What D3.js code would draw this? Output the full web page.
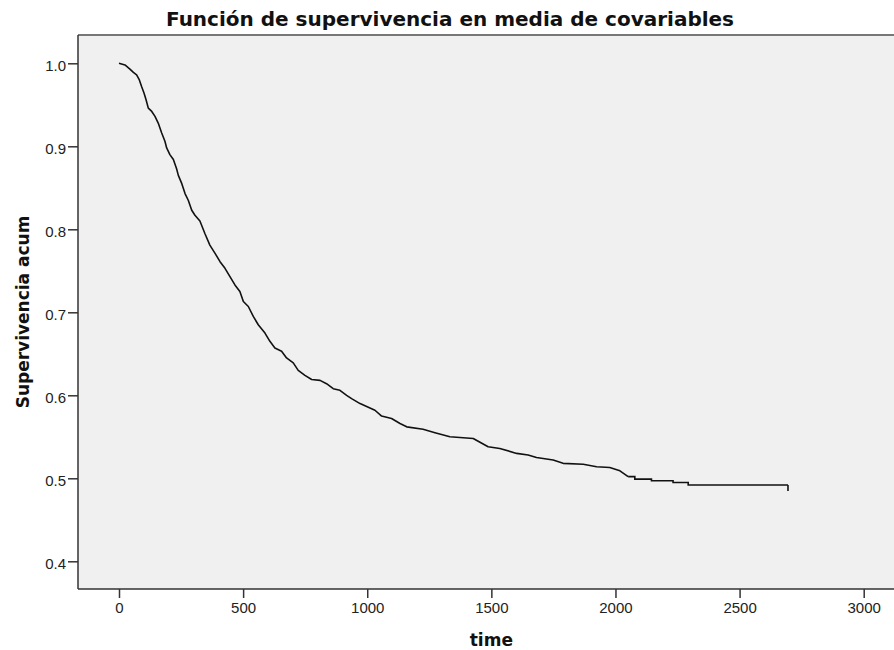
<!DOCTYPE html>
<html>
  <head>
    <title>Función de supervivencia</title>
    <script src="https://d3js.org/d3.v7.min.js"></script>
    <style>
      body { margin: 0; background: #fff; }
      .axis text { font-family: "Liberation Sans", Arial, sans-serif; font-size: 15px; fill: #222; }
      .axis line, .axis path { stroke: #333; stroke-width: 1.5px; }
      .ttl { font-family: "DejaVu Sans", sans-serif; font-weight: bold; fill: #111; }
    </style>
  </head>
  <body>
    <script>
      // Tiempos y supervivencia acumulada
      var times = [0, 24, 44, 58, 71, 82, 91, 101, 109, 118, 132, 145, 158, 172, 185, 192, 205, 219, 232, 239,
        253, 266, 279, 293, 306, 326, 346, 366, 387, 407, 427, 447, 467, 487, 501, 521, 541, 561, 588, 608,
        628, 655, 675, 702, 722, 749, 776, 810, 836, 863, 890, 917, 937, 971, 1031, 1058, 1098, 1132, 1159, 1225,
        1273, 1333, 1427, 1487, 1534, 1602, 1648, 1682, 1749, 1789, 1870, 1924, 1977, 2018, 2051, 2078, 2145, 2232, 2293, 2695];
      var survival = [1.000, 0.998, 0.993, 0.989, 0.986, 0.980, 0.972, 0.964, 0.956, 0.946, 0.942, 0.936, 0.928, 0.916, 0.906, 0.898, 0.890, 0.884, 0.873, 0.865,
        0.855, 0.843, 0.835, 0.823, 0.817, 0.810, 0.795, 0.781, 0.771, 0.761, 0.753, 0.743, 0.733, 0.725, 0.713, 0.707, 0.695, 0.685, 0.675, 0.665,
        0.657, 0.653, 0.645, 0.639, 0.630, 0.624, 0.619, 0.618, 0.614, 0.608, 0.606, 0.600, 0.596, 0.590, 0.582, 0.575, 0.572, 0.566, 0.562, 0.559,
        0.555, 0.550, 0.548, 0.538, 0.536, 0.530, 0.528, 0.525, 0.522, 0.518, 0.517, 0.514, 0.513, 0.509, 0.502, 0.499, 0.497, 0.495, 0.492, 0.492];
      // censura final
      var censorTime = 2695;
      var xTicks = [0, 500, 1000, 1500, 2000, 2500, 3000];
      var yTicks = [0.4, 0.5, 0.6, 0.7, 0.8, 0.9, 1.0];

      var width = 894, height = 650;
      var plot = {left: 78, top: 35, right: 894, bottom: 589};

      var x = d3.scaleLinear().domain([0, 3000]).range([119, 863.7]);
      var y = d3.scaleLinear().domain([0.4, 1.0]).range([561.3, 63.3]);

      var svg = d3.select("body").append("svg")
        .attr("width", width)
        .attr("height", height);

      // fondo del area de grafico
      svg.append("rect")
        .attr("x", plot.left).attr("y", plot.top)
        .attr("width", plot.right - plot.left)
        .attr("height", plot.bottom - plot.top)
        .attr("fill", "#f0f0f0");

      // borde superior
      svg.append("line")
        .attr("x1", plot.left).attr("x2", plot.right)
        .attr("y1", plot.top).attr("y2", plot.top)
        .attr("stroke", "#777").attr("stroke-width", 2);

      // titulo
      svg.append("text")
        .attr("class", "ttl")
        .attr("x", 450).attr("y", 26)
        .attr("text-anchor", "middle")
        .style("font-size", "20px")
        .text("Función de supervivencia en media de covariables");

      // eje x
      var gx = svg.append("g")
        .attr("class", "axis")
        .attr("transform", "translate(0," + plot.bottom + ")")
        .call(d3.axisBottom(x).tickValues(xTicks).tickFormat(d3.format("d")).tickSize(9).tickSizeOuter(0).tickPadding(4));
      gx.select(".domain").attr("d", "M" + plot.left + ",0H" + plot.right);

      // eje y
      var gy = svg.append("g")
        .attr("class", "axis")
        .attr("transform", "translate(" + plot.left + ",0)")
        .call(d3.axisLeft(y).tickValues(yTicks).tickFormat(d3.format(".1f")).tickSize(10).tickSizeOuter(0).tickPadding(2));
      gy.select(".domain").attr("d", "M0," + plot.top + "V" + plot.bottom);
      gy.selectAll("text").attr("dy", "0.45em");

      // curva de supervivencia: tramo denso como linea, cola en escalones
      var pts = times.map(function(t, i) { return [t, survival[i]]; });
      var head = pts.filter(function(d) { return d[0] <= 2051; });
      var tail = pts.filter(function(d) { return d[0] >= 2051; });

      var lineLin = d3.line()
        .x(function(d) { return x(d[0]); })
        .y(function(d) { return y(d[1]); });
      var lineStep = d3.line()
        .x(function(d) { return x(d[0]); })
        .y(function(d) { return y(d[1]); })
        .curve(d3.curveStepAfter);

      svg.append("path")
        .datum(head)
        .attr("fill", "none")
        .attr("stroke", "#111")
        .attr("stroke-width", 1.6)
        .attr("stroke-linejoin", "round")
        .attr("d", lineLin);

      svg.append("path")
        .datum(tail)
        .attr("fill", "none")
        .attr("stroke", "#111")
        .attr("stroke-width", 1.6)
        .attr("d", lineStep);

      // marca de censura al final
      var last = survival[survival.length - 1];
      svg.append("line")
        .attr("x1", x(censorTime)).attr("x2", x(censorTime))
        .attr("y1", y(last)).attr("y2", y(last) + 6)
        .attr("stroke", "#111").attr("stroke-width", 1.6);

      // titulos de ejes
      svg.append("text")
        .attr("class", "ttl")
        .attr("x", x(1500)).attr("y", 646)
        .attr("text-anchor", "middle")
        .style("font-size", "17px")
        .text("time");

      svg.append("text")
        .attr("class", "ttl")
        .attr("transform", "translate(29," + ((plot.top + plot.bottom) / 2) + ") rotate(-90)")
        .attr("text-anchor", "middle")
        .style("font-size", "17px")
        .text("Supervivencia acum");
    </script>
  </body>
</html>
